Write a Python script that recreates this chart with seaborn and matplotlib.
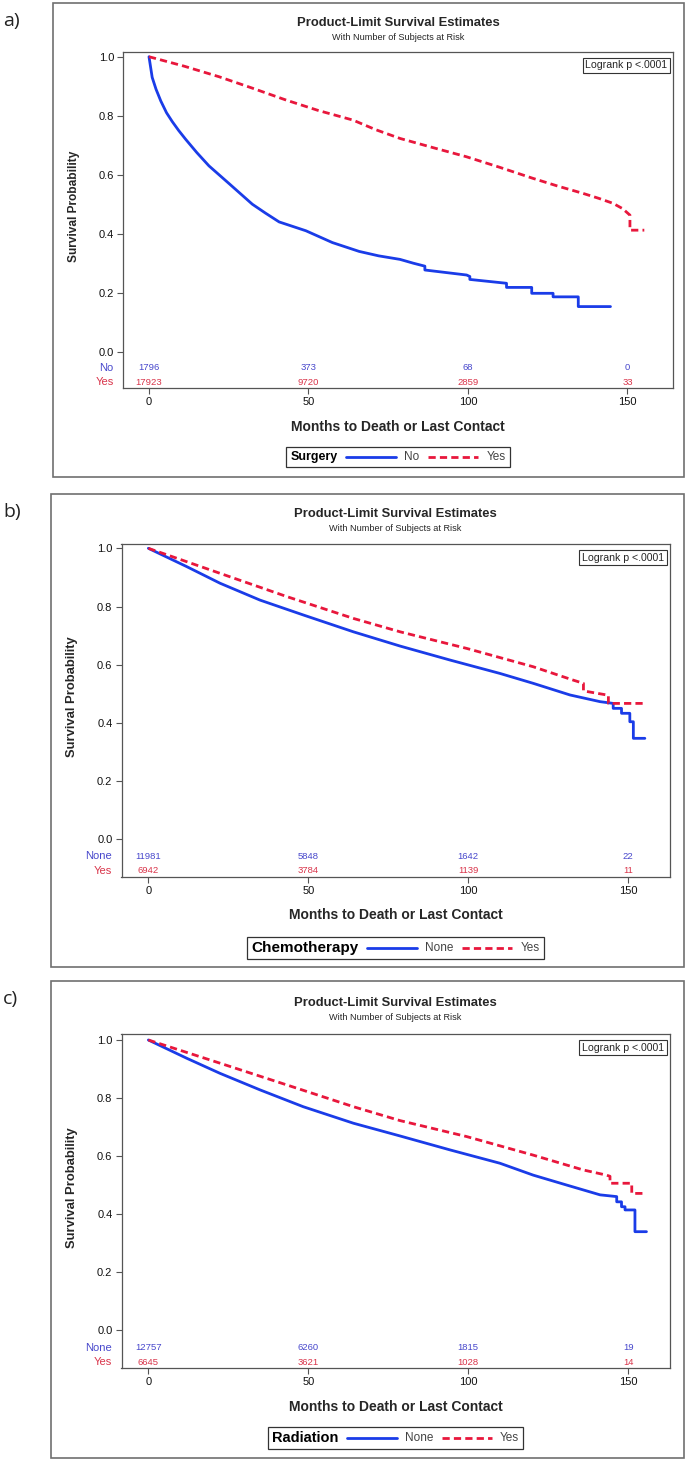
import numpy as np
import pandas as pd
import matplotlib
matplotlib.use('Agg')
import matplotlib.pyplot as plt
import matplotlib.transforms as mtransforms
from matplotlib.patches import Rectangle
from matplotlib.lines import Line2D
from matplotlib.ticker import FormatStrFormatter
from matplotlib.offsetbox import TextArea, DrawingArea, HPacker, AnchoredOffsetbox
import seaborn as sns


# ---- data ------------------------------------------------------------------
RISK_TIMES = [0, 50, 100, 150]

# a) Surgery
SURG_NO_M = [0, 0.5, 1.0, 2.2, 3.7, 5.5, 7.3, 9.3, 11.5, 15, 18.8, 25.1, 32.4, 36.5, 40.8,
             45, 49.2, 57.5, 65.9, 72, 78.7, 82.9, 86.5, 86.5, 99.6, 100.6, 100.6, 112.1,
             112.1, 120.0, 120.0, 126.7, 126.7, 134.6, 134.6, 144.7]
SURG_NO_S = [1.0, 0.965, 0.93, 0.89, 0.85, 0.81, 0.78, 0.75, 0.72, 0.675, 0.63, 0.57, 0.50,
             0.47, 0.44, 0.425, 0.41, 0.37, 0.34, 0.325, 0.313, 0.300, 0.290, 0.277, 0.26,
             0.255, 0.245, 0.232, 0.218, 0.218, 0.198, 0.198, 0.186, 0.186, 0.153, 0.153]
SURG_YES_M = [0, 11, 22, 32, 43, 53, 64, 71, 78.7, 89, 99.5, 110, 120.3, 128, 136, 141,
              145.5, 148.5, 150.8, 150.8, 155.3]
SURG_YES_S = [1.0, 0.968, 0.932, 0.895, 0.853, 0.818, 0.785, 0.753, 0.723, 0.692, 0.661,
              0.625, 0.588, 0.562, 0.537, 0.52, 0.503, 0.485, 0.463, 0.412, 0.412]
SURG_RISK_NO = [1796, 373, 68, 0]
SURG_RISK_YES = [17923, 9720, 2859, 33]

# b) Chemotherapy
CHEMO_NONE_M = [0, 12.0, 22.4, 34.9, 48.4, 64.1, 78.7, 94.3, 109.9, 120.3, 131.8, 141.2,
                145.3, 145.3, 147.9, 147.9, 150.5, 150.5, 151.6, 151.6, 155.2]
CHEMO_NONE_S = [1.0, 0.937, 0.880, 0.822, 0.771, 0.713, 0.664, 0.616, 0.570, 0.536, 0.496,
                0.473, 0.467, 0.450, 0.450, 0.433, 0.433, 0.404, 0.404, 0.347, 0.347]
CHEMO_YES_M = [0, 22.4, 43.3, 64.1, 78.7, 99.5, 120.3, 132.8, 136.0, 136.0, 143.8, 143.8, 155.2]
CHEMO_YES_S = [1.0, 0.914, 0.834, 0.759, 0.713, 0.656, 0.593, 0.547, 0.536, 0.510, 0.495,
               0.467, 0.467]
CHEMO_RISK_NONE = [11981, 5848, 1642, 22]
CHEMO_RISK_YES = [6942, 3784, 1139, 11]

# c) Radiation
RAD_NONE_M = [0, 12.0, 22.4, 34.9, 48.4, 64.1, 78.7, 94.3, 109.9, 120.3, 130.7, 141.2,
              146.4, 146.4, 147.9, 147.9, 149.0, 149.0, 152.1, 152.1, 155.7]
RAD_NONE_S = [1.0, 0.937, 0.885, 0.828, 0.770, 0.713, 0.669, 0.621, 0.575, 0.534, 0.500,
              0.466, 0.460, 0.442, 0.442, 0.425, 0.425, 0.414, 0.414, 0.339, 0.339]
RAD_YES_M = [0, 22.4, 43.3, 64.1, 78.7, 99.5, 120.3, 135.9, 143.2, 144.3, 144.3, 151.1,
             151.1, 155.2]
RAD_YES_S = [1.0, 0.920, 0.845, 0.770, 0.722, 0.667, 0.603, 0.552, 0.534, 0.530, 0.506,
             0.506, 0.471, 0.471]
RAD_RISK_NONE = [12757, 6260, 1815, 19]
RAD_RISK_YES = [6645, 3621, 1028, 14]

# ---- style ------------------------------------------------------------------
W, H = 688, 1462
BLUE, RED = '#1a3ce8', '#e8173c'
BLUE_TXT, RED_TXT = '#4848cc', '#d9344a'

sns.set_style('white')
plt.rcParams['font.family'] = ['Liberation Sans', 'DejaVu Sans']


def fbox(l, t, r, b):
    return [l / W, 1 - b / H, (r - l) / W, (b - t) / H]


panels = [
    dict(tag='a)', var='Surgery', groups=('No', 'Yes'),
         curves=((SURG_NO_M, SURG_NO_S), (SURG_YES_M, SURG_YES_S)),
         risk=(SURG_RISK_NO, SURG_RISK_YES),
         frame=(53, 3.3, 684, 476.7), box=(123, 51.7, 673, 388.3),
         xlim=(-8.15, 164.3), ylim=(-0.124, 1.017),
         title_y=23.3, legend_y=456.7, legend_fs=9, ylabel_fs=8.6),
    dict(tag='b)', var='Chemotherapy', groups=('None', 'Yes'),
         curves=((CHEMO_NONE_M, CHEMO_NONE_S), (CHEMO_YES_M, CHEMO_YES_S)),
         risk=(CHEMO_RISK_NONE, CHEMO_RISK_YES),
         frame=(51, 494, 684, 966.7), box=(121.5, 544, 669.5, 876.7),
         xlim=(-8.4, 162.9), ylim=(-0.1285, 1.0148),
         title_y=514, legend_y=948, legend_fs=11, ylabel_fs=9.4),
    dict(tag='c)', var='Radiation', groups=('None', 'Yes'),
         curves=((RAD_NONE_M, RAD_NONE_S), (RAD_YES_M, RAD_YES_S)),
         risk=(RAD_RISK_NONE, RAD_RISK_YES),
         frame=(51, 981, 684, 1458.3), box=(121.5, 1034, 669.5, 1368.3),
         xlim=(-8.4, 162.9), ylim=(-0.1321, 1.0207),
         title_y=1003, legend_y=1438, legend_fs=10.5, ylabel_fs=9.4),
]

fig = plt.figure(figsize=(W / 100, H / 100), dpi=100)
fig.patch.set_facecolor('white')

for p in panels:
    l, t, r, b = p['box']
    ax_w, ax_h = r - l, b - t
    g0, g1 = p['groups']

    # outer frame and panel letter
    fl, ft, fr, fb = p['frame']
    fig.add_artist(Rectangle((fl / W, 1 - fb / H), (fr - fl) / W, (fb - ft) / H,
                             transform=fig.transFigure, fill=False,
                             ec='#707070', lw=1.2))
    fig.text(3 / W, 1 - (ft + 18) / H, p['tag'], fontsize=14, family='Open Sans',
             color='#222222', ha='left', va='center')

    ax = fig.add_axes(fbox(l, t, r, b))
    df = pd.concat([
        pd.DataFrame({'month': p['curves'][0][0], 'surv': p['curves'][0][1], 'grp': g0}),
        pd.DataFrame({'month': p['curves'][1][0], 'surv': p['curves'][1][1], 'grp': g1}),
    ], ignore_index=True)
    sns.lineplot(data=df, x='month', y='surv', hue='grp', style='grp',
                 palette={g0: BLUE, g1: RED}, dashes={g0: '', g1: (2.6, 1.5)},
                 estimator=None, sort=False, linewidth=2.0, legend=False, ax=ax)

    ax.set_xlim(*p['xlim'])
    ax.set_ylim(*p['ylim'])
    ax.set_xticks(RISK_TIMES)
    ax.set_yticks(np.arange(0, 1.01, 0.2))
    ax.yaxis.set_major_formatter(FormatStrFormatter('%.1f'))
    ax.tick_params(direction='out', length=4, width=0.8, color='#555555',
                   labelsize=8, pad=2.5, bottom=True, left=True, labelcolor='#111111')
    for sp in ax.spines.values():
        sp.set_color('#555555')
        sp.set_linewidth(0.9)

    ax.set_xlabel('Months to Death or Last Contact', fontsize=10, fontweight='bold',
                  va='center')
    ax.xaxis.set_label_coords(0.5, -38.5 / ax_h)
    ax.set_ylabel('Survival Probability', fontsize=p['ylabel_fs'], fontweight='bold',
                  va='center')
    ax.yaxis.set_label_coords(-49 / ax_w, 0.54)

    # numbers at risk, inside the plot box
    trans = mtransforms.blended_transform_factory(ax.transData, ax.transAxes)
    for row_y, lab, counts, col in ((0.061, g0, p['risk'][0], BLUE_TXT),
                                    (0.018, g1, p['risk'][1], RED_TXT)):
        ax.text(-0.017, row_y, lab, transform=ax.transAxes, ha='right', va='center',
                fontsize=8, color=col)
        for xv, n in zip(RISK_TIMES, counts):
            ax.text(xv, row_y, str(n), transform=trans, ha='center', va='center',
                    fontsize=6.8, color=col)

    ax.text(0.99, 0.974, 'Logrank p <.0001', transform=ax.transAxes, ha='right',
            va='top', fontsize=7.6,
            bbox=dict(boxstyle='square,pad=0.25', fc='white', ec='#333333', lw=0.8))

    # titles
    cx = (l + r) / 2
    fig.text(cx / W, 1 - p['title_y'] / H, 'Product-Limit Survival Estimates',
             ha='center', va='center', fontsize=9.4, fontweight='bold')
    fig.text(cx / W, 1 - (p['title_y'] + 14.5) / H, 'With Number of Subjects at Risk',
             ha='center', va='center', fontsize=6.6)

    # legend: bold variable name then line samples
    items = [TextArea(p['var'], textprops=dict(fontsize=p['legend_fs'],
                                               fontweight='bold', color='black'))]
    for lab, col, ls in ((g0, BLUE, '-'), (g1, RED, (0, (2.6, 1.5)))):
        da = DrawingArea(36, 8, 0, 0)
        da.add_artist(Line2D([0, 36], [4, 4], color=col, lw=2.0, linestyle=ls))
        items.append(da)
        items.append(TextArea(lab, textprops=dict(fontsize=8.5, color='#444444')))
    pack = HPacker(children=items, align='center', pad=0, sep=6)
    lg = AnchoredOffsetbox(loc='center', child=pack, pad=0.3, borderpad=0,
                           frameon=True, bbox_to_anchor=(cx / W, 1 - p['legend_y'] / H),
                           bbox_transform=fig.transFigure)
    lg.patch.set_edgecolor('#333333')
    lg.patch.set_linewidth(0.9)
    fig.add_artist(lg)

fig.savefig('out.png', dpi=100, facecolor='white')
